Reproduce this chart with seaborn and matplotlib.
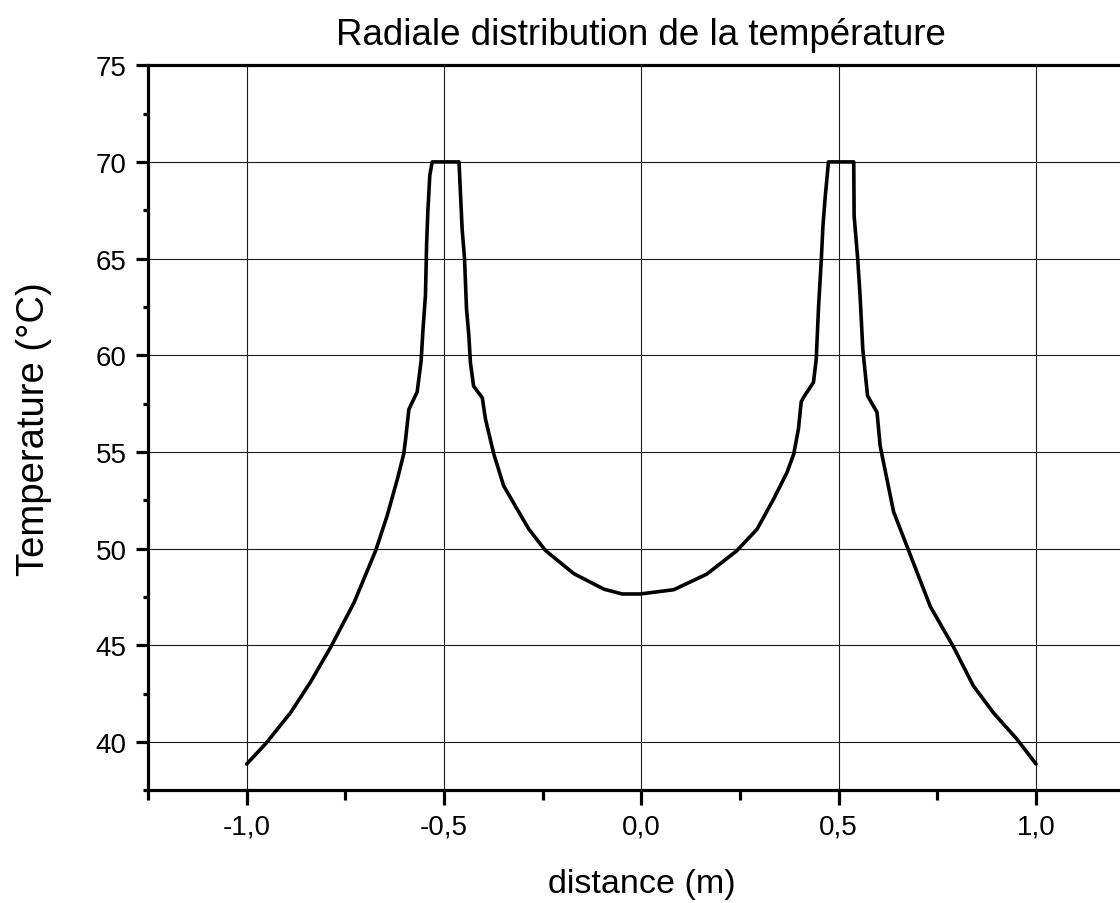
import matplotlib
matplotlib.use("Agg")
import matplotlib.pyplot as plt
import numpy as np
import pandas as pd
import seaborn as sns
from matplotlib.ticker import MultipleLocator, FuncFormatter

sns.set_theme(style="white")
plt.rcParams['font.family'] = ['Liberation Sans', 'DejaVu Sans']

title = "Radiale distribution de la température"
x_label = "distance (m)"
y_label = "Temperature (°C)"

distance = [
    -1.000, -0.952, -0.889, -0.838, -0.787, -0.728, -0.673, -0.644, -0.618, -0.602,
    -0.597, -0.589, -0.568, -0.558, -0.553, -0.547, -0.544, -0.541, -0.536, -0.530,
    -0.462, -0.458, -0.454, -0.448, -0.443, -0.437, -0.433, -0.425, -0.403, -0.395,
    -0.374, -0.349, -0.315, -0.285, -0.243, -0.171, -0.095, -0.049, -0.003, 0.082,
    0.166, 0.242, 0.293, 0.335, 0.369, 0.386, 0.398, 0.405, 0.415, 0.436,
    0.443, 0.449, 0.456, 0.460, 0.466, 0.474, 0.538, 0.539, 0.548, 0.554,
    0.561, 0.573, 0.597, 0.605, 0.609, 0.639, 0.677, 0.732, 0.791, 0.841,
    0.892, 0.951, 1.000,
]
temperature = [
    38.85, 39.9, 41.5, 43.1, 44.9, 47.2, 49.9, 51.7, 53.6, 54.9,
    55.7, 57.2, 58.1, 59.7, 61.4, 63.1, 65.8, 67.4, 69.3, 70.0,
    70.0, 68.25, 66.5, 65.0, 62.4, 61.0, 59.6, 58.4, 57.8, 56.7,
    54.9, 53.25, 52.05, 51.0, 49.9, 48.7, 47.9, 47.65, 47.65, 47.87,
    48.68, 49.89, 51.0, 52.56, 53.94, 54.89, 56.2, 57.6, 57.95, 58.6,
    59.8, 62.56, 65.0, 66.7, 68.25, 70.0, 70.0, 67.2, 65.0, 63.1,
    60.3, 57.9, 57.05, 55.3, 54.9, 51.9, 49.9, 47.0, 44.9, 42.9,
    41.5, 40.15, 38.85,
]

df = pd.DataFrame({"distance": distance, "temperature": temperature})

fig = plt.figure(figsize=(11.2, 9.04), dpi=100)
ax = fig.add_axes([0.1321, 0.1248, 0.8811, 0.8019])

sns.lineplot(data=df, x="distance", y="temperature", sort=False, estimator=None,
             color="black", lw=2.6, ax=ax)

ax.set_xlim(-1.25, 1.25)
ax.set_ylim(37.5, 75)
ax.xaxis.set_major_locator(MultipleLocator(0.5))
ax.xaxis.set_minor_locator(MultipleLocator(0.25))
ax.yaxis.set_major_locator(MultipleLocator(5))
ax.yaxis.set_minor_locator(MultipleLocator(2.5))
ax.xaxis.set_major_formatter(FuncFormatter(lambda v, p: f"{v:.1f}".replace(".", ",")))
ax.yaxis.set_major_formatter(FuncFormatter(lambda v, p: f"{v:.0f}"))

ax.grid(True, which="major", color="#1a1a1a", lw=0.8)
ax.set_axisbelow(True)
for s in ax.spines.values():
    s.set_visible(True)
    s.set_color("black")
    s.set_linewidth(2.3)

ax.tick_params(axis="x", which="major", length=11, width=2.3, direction="out",
               labelsize=20, pad=6, bottom=True, top=False, colors="black")
ax.tick_params(axis="x", which="minor", length=7, width=2.3, direction="out",
               bottom=True, top=False, colors="black")
ax.tick_params(axis="y", which="major", length=8.5, width=2.3, direction="out",
               labelsize=20, pad=7, left=True, right=False, colors="black")
ax.tick_params(axis="y", which="minor", length=3.6, width=2.3, direction="out",
               left=True, right=False, colors="black")

ax.set_xlabel(x_label, fontsize=24.5, labelpad=20, color="black")
ax.set_ylabel(y_label, fontsize=27.5, labelpad=31, color="black")
ax.set_title(title, fontsize=26.5, pad=15, color="black")

fig.savefig("out.png", dpi=100)
